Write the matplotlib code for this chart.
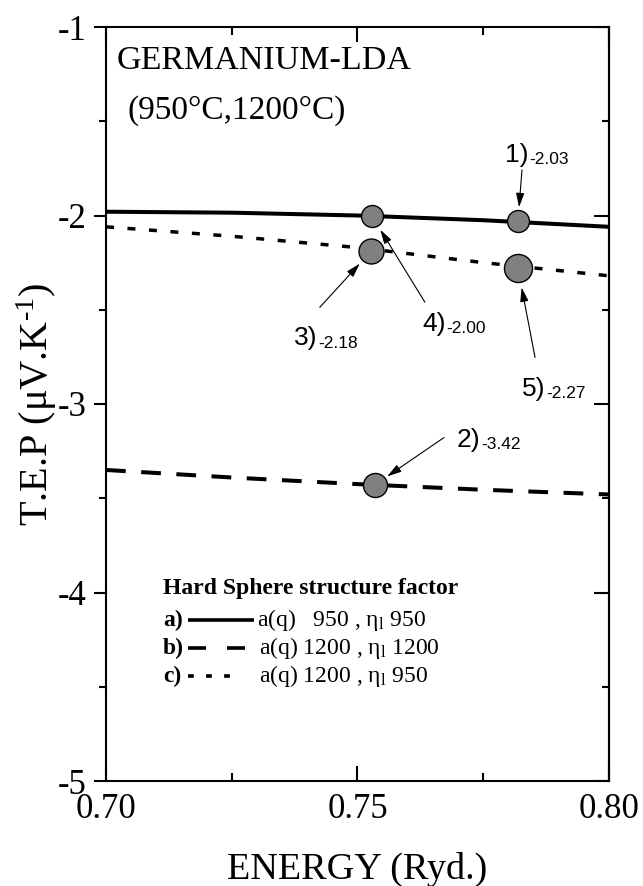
import matplotlib
matplotlib.use('Agg')
import matplotlib.pyplot as plt
from matplotlib.ticker import MultipleLocator, FormatStrFormatter

plt.rcParams['font.family'] = ['Liberation Serif', 'DejaVu Serif']
plt.rcParams['mathtext.fontset'] = 'custom'
plt.rcParams['mathtext.rm'] = 'Liberation Serif'
plt.rcParams['mathtext.it'] = 'Liberation Serif:italic'
plt.rcParams['mathtext.bf'] = 'Liberation Serif:bold'
plt.rcParams['axes.unicode_minus'] = False

# ---------------- data ----------------
energy = [0.700, 0.725, 0.750, 0.775, 0.800]
tep_a = [-1.98, -1.985, -2.00, -2.025, -2.06]    # a(q) 950, eta 950
tep_b = [-3.35, -3.39, -3.425, -3.455, -3.48]    # a(q) 1200, eta 1200
tep_c = [-2.06, -2.11, -2.17, -2.25, -2.32]      # a(q) 1200, eta 950

point_x = [0.7819, 0.7534, 0.7527, 0.7528, 0.7819]
point_y = [-2.03, -3.43, -2.19, -2.00, -2.28]
point_labels = ['1)', '2)', '3)', '4)', '5)']
point_values = ['-2.03', '-3.42', '-2.18', '-2.00', '-2.27']

legend_title = 'Hard Sphere structure factor'
legend_keys = ['a)', 'b)', 'c)']
legend_texts = [r'a(q)   950 , η$_\mathrm{l}$ 950',
                r'a(q) 1200 , η$_\mathrm{l}$ 1200',
                r'a(q) 1200 , η$_\mathrm{l}$ 950']

# ---------------- layout / style ----------------
marker_sizes = [15.8, 17.3, 18.0, 15.8, 20.2]
label_pos = [(0.7793, -1.715), (0.7698, -3.226), (0.7374, -2.689),
             (0.7628, -2.614), (0.7827, -2.955)]
arrow_tail = [(0.7827, -1.758), (0.7672, -3.178), (0.7425, -2.487),
              (0.7634, -2.460), (0.7853, -2.753)]
arrow_shrink = [10, 11, 12, 12, 14]

fig = plt.figure(figsize=(6.43, 8.86), dpi=100)
ax = fig.add_axes([106/643, (886-781)/886, 503/643, 754/886])

ax.plot(energy, tep_a, color='black', lw=2.9, solid_capstyle='butt')
ax.plot(energy, tep_b, color='black', lw=2.9, dashes=(4.9, 3.85))
ax.plot(energy, tep_c, color='black', lw=2.5, dashes=(2.3, 3.9))

for i in range(len(point_x)):
    ax.plot(point_x[i], point_y[i], 'o', ms=marker_sizes[i], mfc='#808080',
            mec='black', mew=1.0, zorder=5)
    ax.annotate('', xy=(point_x[i], point_y[i]), xytext=arrow_tail[i],
                arrowprops=dict(arrowstyle='-|>,head_length=0.86,head_width=0.25',
                                color='black', lw=0.8, shrinkA=0,
                                shrinkB=arrow_shrink[i], mutation_scale=10),
                zorder=6)
    t = ax.text(label_pos[i][0], label_pos[i][1], point_labels[i],
                family='Liberation Sans', fontsize=19, ha='left', va='baseline')
    ax.annotate(point_values[i], xy=(1, 0), xycoords=t, xytext=(0.5, 2.0),
                textcoords='offset points', family='Liberation Sans',
                fontsize=12.5, ha='left', va='baseline')

ax.text(0.7022, -1.2207, 'GERMANIUM-LDA', fontsize=24.5, ha='left', va='baseline')
ax.text(0.7042, -1.487, '(950°C,1200°C)', fontsize=24, ha='left', va='baseline')

# legend (drawn by hand)
ax.text(0.7113, -3.981, legend_title, fontsize=17, fontweight='bold',
        ha='left', va='center')
rows_y = [-4.147, -4.296, -4.444]
seg_end = [0.7294, 0.7277, 0.7247]
text_x = [0.7300, 0.7304, 0.7304]
styles = [dict(lw=2.6, solid_capstyle='butt'),
          dict(lw=2.6, dashes=(5.0, 5.8)),
          dict(lw=2.6, dashes=(1.6, 3.4))]
for k in range(3):
    ax.text(0.7113, rows_y[k], legend_keys[k], fontsize=17, fontweight='bold',
            ha='left', va='center')
    ax.plot([0.7163, seg_end[k]], [rows_y[k], rows_y[k]], color='black', **styles[k])
    ax.text(text_x[k], rows_y[k], legend_texts[k], fontsize=17, ha='left', va='center')

ax.set_xlim(0.70, 0.80)
ax.set_ylim(-5, -1)
for s in ax.spines.values():
    s.set_linewidth(1.5)

ax.xaxis.set_major_locator(MultipleLocator(0.05))
ax.xaxis.set_minor_locator(MultipleLocator(0.025))
ax.xaxis.set_major_formatter(FormatStrFormatter('%.2f'))
ax.yaxis.set_major_locator(MultipleLocator(1))
ax.yaxis.set_minor_locator(MultipleLocator(0.5))
ax.yaxis.set_major_formatter(FormatStrFormatter('%d'))

ax.tick_params(axis='x', which='both', direction='in', top=True, bottom=True,
               labelsize=25, pad=9, width=1.5)
ax.tick_params(axis='x', which='major', length=11)
ax.tick_params(axis='x', which='minor', length=6)
ax.tick_params(axis='y', which='both', direction='out', left=True, right=False,
               labelsize=25, pad=5, width=1.5)
ax.tick_params(axis='y', which='major', length=9)
ax.tick_params(axis='y', which='minor', length=5)

sec = ax.secondary_yaxis('right')
sec.yaxis.set_major_locator(MultipleLocator(1))
sec.yaxis.set_minor_locator(MultipleLocator(0.5))
sec.tick_params(which='both', direction='in', labelright=False, width=1.5)
sec.tick_params(which='major', length=11)
sec.tick_params(which='minor', length=5)
sec.spines['right'].set_linewidth(1.5)

ax.set_ylabel('T.E.P (μV.K$^{\u2010\\mathrm{1}}$)', fontsize=29)
ax.yaxis.set_label_coords(-0.093, 0.5)
ax.text(0.5, (781-879)/754, 'ENERGY (Ryd.)', transform=ax.transAxes,
        ha='center', va='baseline', fontsize=27.5)

fig.savefig('out.png', dpi=100)
